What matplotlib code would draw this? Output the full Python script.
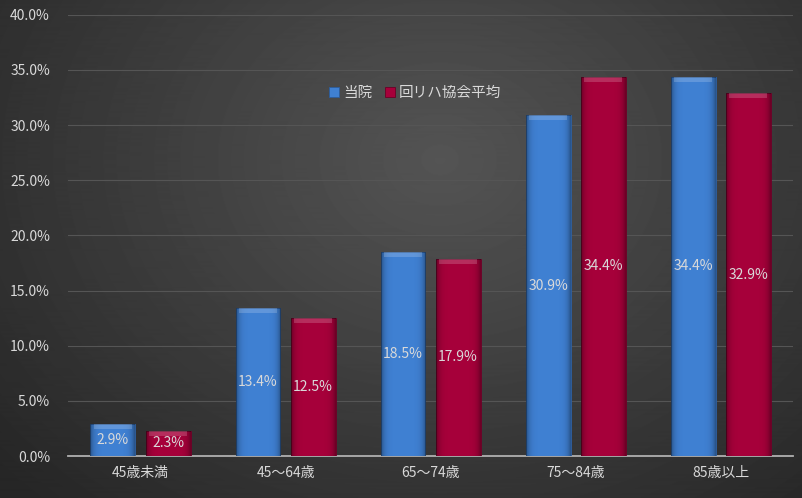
import numpy as np
import matplotlib
matplotlib.use("Agg")
import matplotlib.pyplot as plt

plt.rcParams["font.family"] = ["Noto Sans CJK JP", "DejaVu Sans"]

# ---------------------------------------------------------------- data
categories = ["45歳未満", "45〜64歳", "65〜74歳", "75〜84歳", "85歳以上"]
series_names = ["当院", "回リハ協会平均"]
ours = [2.9, 13.4, 18.5, 30.9, 34.4]
assoc = [2.3, 12.5, 17.9, 34.4, 32.9]
yticks = [0, 5, 10, 15, 20, 25, 30, 35, 40]

TEXT = "#d9d9d9"
BLUE = "#3f80d2"
RED = "#a6003a"

fig = plt.figure(figsize=(8.03, 4.98), dpi=100)

# fond sombre radial
bg = fig.add_axes([0, 0, 1, 1], zorder=-10)
yy, xx = np.mgrid[0:498, 0:803]
r = np.sqrt(((xx - 440) / 520.0) ** 2 + ((yy - 160) / 420.0) ** 2)
shade = np.clip(0.33 - 0.16 * r, 0.15, 0.33)
bg.imshow(shade, cmap="gray", vmin=0, vmax=1, aspect="auto", extent=[0, 1, 0, 1])
bg.axis("off")

ax = fig.add_axes([0.0847, 0.0843, 0.903, 0.886])
ax.set_facecolor("none")

x = np.arange(len(categories))
w = 0.31
b1 = ax.bar(x - 0.19, ours, w, color=BLUE, label=series_names[0], zorder=3,
            edgecolor="#2c5c9c", linewidth=0.6)
b2 = ax.bar(x + 0.19, assoc, w, color=RED, label=series_names[1], zorder=3,
            edgecolor="#6a0026", linewidth=0.6)

# assombrir les bords + biseau en haut
edge = np.abs(np.linspace(-1, 1, 64)) ** 6
side = np.zeros((1, 64, 4))
side[..., 3] = 0.35 * edge
for b in list(b1) + list(b2):
    x0, h, bw = b.get_x(), b.get_height(), b.get_width()
    im = ax.imshow(side, aspect="auto", zorder=3.5, interpolation="bilinear",
                   extent=[x0, x0 + bw, 0, h])
    im.set_clip_path(b)
    ax.fill_between([x0 + 0.025, x0 + bw - 0.025], h - 0.45, h,
                    color="white", alpha=0.18, zorder=3.6, linewidth=0)
ax.set_aspect("auto")

for bars in (b1, b2):
    ax.bar_label(bars, labels=[f"{v:.1f}%" for v in bars.datavalues],
                 label_type="center", color=TEXT, fontsize=10, zorder=5)

ax.set_ylim(0, 40)
ax.set_xlim(-0.5, len(categories) - 0.5)
ax.set_yticks(yticks)
ax.set_yticklabels([f"{v:.1f}%" for v in yticks], color=TEXT, fontsize=10)
ax.set_xticks(x)
ax.set_xticklabels(categories, color=TEXT, fontsize=10)
ax.tick_params(length=0, pad=7)
ax.tick_params(axis="y", pad=13)
ax.yaxis.grid(True, color="#555555", linewidth=0.8, zorder=0)
for s in ("top", "right", "left"):
    ax.spines[s].set_visible(False)
ax.spines["bottom"].set_color("#b0b0b0")
ax.spines["bottom"].set_linewidth(1.3)

leg = ax.legend(loc="center", bbox_to_anchor=(0.479, 0.823), ncol=2, frameon=False,
                fontsize=10.5, handlelength=0.7, handleheight=0.7, columnspacing=0.8,
                handletextpad=0.3)
for t in leg.get_texts():
    t.set_color(TEXT)

fig.savefig("out.png", dpi=100)
